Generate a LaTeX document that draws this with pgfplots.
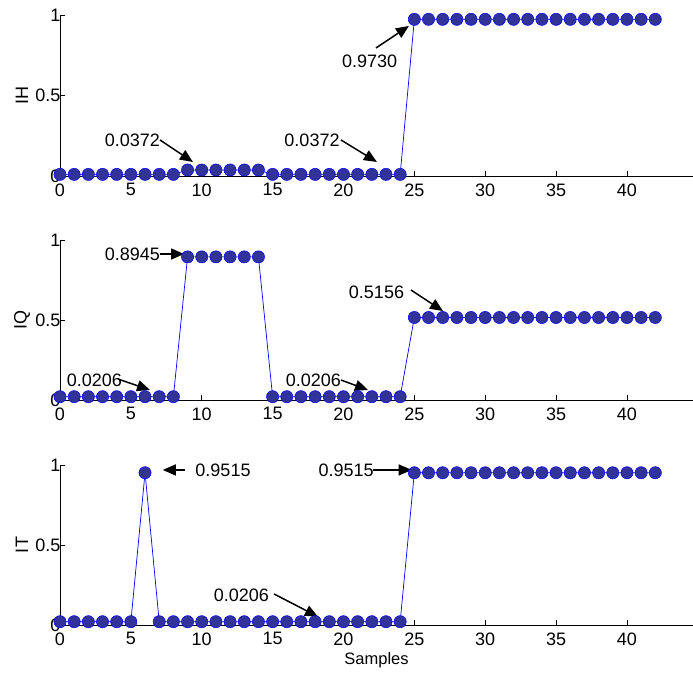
\documentclass[border=0pt]{standalone}
\usepackage{fontspec}
\setmainfont{Liberation Sans}
\usepackage{pgfplots}
\usepackage{pgfplotstable}
\pgfplotsset{compat=1.18}
\usetikzlibrary{arrows.meta}

\definecolor{mfill}{RGB}{49,51,153}

% samples: IH, IQ, IT
\pgfplotstableread{
x  ih     iq     it
0  0.0100 0.0206 0.0206
1  0.0100 0.0206 0.0206
2  0.0100 0.0206 0.0206
3  0.0100 0.0206 0.0206
4  0.0100 0.0206 0.0206
5  0.0100 0.0206 0.0206
6  0.0100 0.0206 0.9515
7  0.0100 0.0206 0.0206
8  0.0100 0.0206 0.0206
9  0.0372 0.8945 0.0206
10 0.0372 0.8945 0.0206
11 0.0372 0.8945 0.0206
12 0.0372 0.8945 0.0206
13 0.0372 0.8945 0.0206
14 0.0372 0.8945 0.0206
15 0.0100 0.0206 0.0206
16 0.0100 0.0206 0.0206
17 0.0100 0.0206 0.0206
18 0.0100 0.0206 0.0206
19 0.0100 0.0206 0.0206
20 0.0100 0.0206 0.0206
21 0.0100 0.0206 0.0206
22 0.0100 0.0206 0.0206
23 0.0100 0.0206 0.0206
24 0.0100 0.0206 0.0206
25 0.9730 0.5156 0.9515
26 0.9730 0.5156 0.9515
27 0.9730 0.5156 0.9515
28 0.9730 0.5156 0.9515
29 0.9730 0.5156 0.9515
30 0.9730 0.5156 0.9515
31 0.9730 0.5156 0.9515
32 0.9730 0.5156 0.9515
33 0.9730 0.5156 0.9515
34 0.9730 0.5156 0.9515
35 0.9730 0.5156 0.9515
36 0.9730 0.5156 0.9515
37 0.9730 0.5156 0.9515
38 0.9730 0.5156 0.9515
39 0.9730 0.5156 0.9515
40 0.9730 0.5156 0.9515
41 0.9730 0.5156 0.9515
42 0.9730 0.5156 0.9515
}\samples

\pgfplotsset{
  panel/.style={
    scale only axis, width=633pt, height=160pt,
    xmin=0, xmax=44.66, ymin=0, ymax=1,
    axis lines=left, axis line style={-, line width=0.8pt},
    tick align=inside, major tick length=5pt,
    tick style={black, line width=0.8pt},
    xtick={0,5,...,40}, ytick={0,0.5,1},
    clip=false,
    /pgf/number format/assume math mode=true,
    yticklabel style={xshift=4pt},
    xticklabel style={yshift=-4pt},
    every axis y label/.style={at={([xshift=-38pt]axis description cs:0,0.5)}, rotate=90, anchor=center},
  },
  series/.style={blue, line width=0.7pt, mark=*, mark size=6.1pt,
    mark options={fill=mfill, draw=blue, line width=0.5pt}},
}
\tikzset{note/.style={-{Triangle[length=13pt,width=11pt]}, line width=1.5pt}}

\begin{document}
\begin{tikzpicture}[font=\fontsize{18}{21}\selectfont]
\path[use as bounding box] (0pt,0pt) rectangle (693pt,675pt);

% IH
\begin{axis}[panel, at={(60pt,499pt)}, anchor=south west, height=161pt, ylabel={IH}]
  \addplot[series] table[x=x, y=ih] {\samples};
  \node at (axis cs:5.11,0.224) {0.0372};
  \draw[note] (axis cs:7.05,0.224) -- (axis cs:9.38,0.087);
  \node at (axis cs:17.78,0.224) {0.0372};
  \draw[note] (axis cs:19.82,0.224) -- (axis cs:22.36,0.087);
  \node at (axis cs:21.85,0.714) {0.9730};
  \draw[note] (axis cs:22.29,0.795) -- (axis cs:24.62,0.932);
\end{axis}

% IQ
\begin{axis}[panel, at={(60pt,275pt)}, anchor=south west, ylabel={IQ}]
  \addplot[series] table[x=x, y=iq] {\samples};
  \node at (axis cs:5.11,0.9125) {0.8945};
  \draw[note] (axis cs:7.05,0.9125) -- (axis cs:8.75,0.9125);
  \node at (axis cs:2.43,0.125) {0.0206};
  \draw[note] (axis cs:4.09,0.131) -- (axis cs:6.35,0.0625);
  \node at (axis cs:17.88,0.125) {0.0206};
  \draw[note] (axis cs:19.82,0.125) -- (axis cs:21.73,0.0625);
  \node at (axis cs:22.33,0.675) {0.5156};
  \draw[note] (axis cs:24.76,0.6875) -- (axis cs:27.02,0.556);
\end{axis}

% IT
\begin{axis}[panel, at={(60pt,50pt)}, anchor=south west, ylabel={IT},
    xlabel={Samples},
    xlabel style={at={([yshift=-35pt]axis description cs:0.5,0)}, anchor=center, font=\fontsize{16.5}{19}\selectfont}]
  \addplot[series] table[x=x, y=it] {\samples};
  \draw[note] (axis cs:8.82,0.969) -- (axis cs:7.25,0.969);
  \node at (axis cs:11.5,0.969) {0.9515};
  \node at (axis cs:20.18,0.969) {0.9515};
  \draw[note] (axis cs:22.08,0.969) -- (axis cs:24.81,0.969);
  \node at (axis cs:12.8,0.1875) {0.0206};
  \draw[note] (axis cs:15.1,0.194) -- (axis cs:18.2,0.052);
\end{axis}
\end{tikzpicture}
\end{document}
